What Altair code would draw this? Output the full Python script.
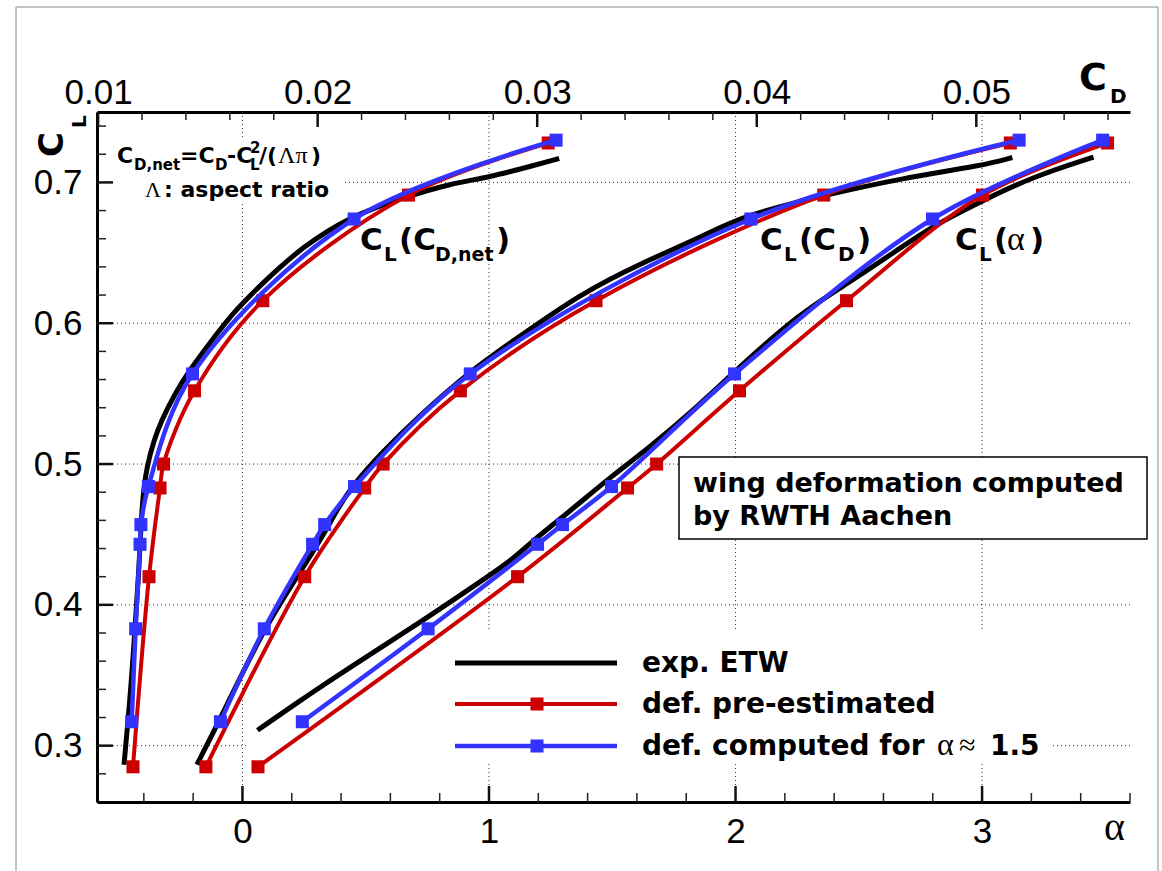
import altair as alt
import pandas as pd

# ---------------- data ----------------
# def. pre-estimated (red squares)
red_cl = [0.285, 0.420, 0.483, 0.500, 0.552, 0.616, 0.691, 0.728]
red_alpha = [0.063, 1.116, 1.562, 1.680, 2.016, 2.450, 3.002, 3.509]
red_cd = [0.01491, 0.01941, 0.02214, 0.02298, 0.02650, 0.03268, 0.04305, 0.05155]
red_cdnet = [0.01159, 0.01232, 0.01282, 0.01298, 0.01439, 0.01750, 0.02414, 0.03050]

# def. computed for alpha ~ 1.5 (blue squares)
blue_cl = [0.317, 0.383, 0.443, 0.457, 0.484, 0.564, 0.674, 0.730]
blue_alpha = [0.243, 0.753, 1.197, 1.298, 1.497, 1.996, 2.799, 3.489]
blue_cd = [0.01557, 0.01757, 0.01977, 0.02032, 0.02168, 0.02695, 0.03973, 0.05195]
blue_cdnet = [0.01153, 0.01171, 0.01191, 0.01195, 0.01229, 0.01430, 0.02166, 0.03086]

# exp. ETW (black lines)
exp_alpha_cl = [0.311, 0.338, 0.354, 0.384, 0.416, 0.432, 0.446, 0.465, 0.492, 0.510,
                0.542, 0.567, 0.607, 0.629, 0.653, 0.669, 0.687, 0.704, 0.718]
exp_alpha = [0.061, 0.284, 0.422, 0.690, 0.961, 1.095, 1.180, 1.318, 1.501, 1.639,
             1.854, 2.004, 2.260, 2.462, 2.665, 2.799, 3.002, 3.205, 3.452]
exp_cd_cl = [0.2865, 0.3255, 0.3844, 0.4248, 0.4511, 0.4695, 0.4865, 0.5078, 0.5312, 0.5667,
             0.5879, 0.6213, 0.6426, 0.6610, 0.6766, 0.6908, 0.7028, 0.7121, 0.7177]
exp_cd = [0.01450, 0.01577, 0.01759, 0.01927, 0.02032, 0.02095, 0.02168, 0.02291, 0.02441, 0.02700,
          0.02895, 0.03200, 0.03473, 0.03745, 0.03941, 0.04305, 0.04655, 0.05032, 0.05164]
exp_cdnet_cl = [0.2865, 0.3326, 0.3730, 0.4234, 0.4745, 0.4993, 0.5170, 0.5298, 0.5489, 0.5681,
                0.5879, 0.6092, 0.6312, 0.6539, 0.6766, 0.6894, 0.6993, 0.7035, 0.7121, 0.7170]
exp_cdnet = [0.01118, 0.01145, 0.01164, 0.01186, 0.01200, 0.01223, 0.01255, 0.01286, 0.01345, 0.01423,
             0.01518, 0.01623, 0.01768, 0.01927, 0.02155, 0.02395, 0.02609, 0.02777, 0.02986, 0.03100]

# axis ticks
alpha_major = [0, 1, 2, 3]
alpha_minor = [-0.4, -0.2, 0.2, 0.4, 0.6, 0.8, 1.2, 1.4, 1.6, 1.8, 2.2, 2.4, 2.6, 2.8, 3.2, 3.4, 3.6]
cl_major = [0.3, 0.4, 0.5, 0.6, 0.7]
cl_minor = [0.28, 0.32, 0.34, 0.36, 0.38, 0.42, 0.44, 0.46, 0.48, 0.52, 0.54, 0.56, 0.58,
            0.62, 0.64, 0.66, 0.68, 0.72, 0.74]
cd_major = [0.01, 0.02, 0.03, 0.04, 0.05]
cd_minor = [0.012, 0.014, 0.016, 0.018, 0.022, 0.024, 0.026, 0.028, 0.032, 0.034, 0.036, 0.038,
            0.042, 0.044, 0.046, 0.048, 0.052, 0.054, 0.056]

# ---------------- layout constants ----------------
W, H = 1033, 690
OX, OY = 97, 112
RED = "#cc0000"
BLUE = "#3333ff"
SANS = "Liberation Sans"
BOLD = "DejaVu Sans"
SERIF = "Liberation Serif"

xa = alt.Scale(domain=[-0.59, 3.6], nice=False, zero=False)
xc = alt.Scale(domain=[0.00995, 0.0570], nice=False, zero=False)
ys = alt.Scale(domain=[0.26, 0.75], nice=False, zero=False)

ax_common = dict(grid=False, ticks=False, domainWidth=3, domainColor="black",
                 labelFont=SANS, labelFontSize=35, labelColor="black", title=None)

y_enc = alt.Y("cl:Q", scale=ys,
              axis=alt.Axis(orient="left", values=cl_major, format=".1f", labelPadding=15, **ax_common))
xa_enc = alt.X("alpha:Q", scale=xa,
               axis=alt.Axis(orient="bottom", values=alpha_major, format="d", labelPadding=12, **ax_common))
xc_enc = alt.X("cd:Q", scale=xc,
               axis=alt.Axis(orient="top", values=cd_major, format=".2f", labelPadding=2, **ax_common))

one = pd.DataFrame({"k": [0]})


def df_alpha(a, cl):
    return pd.DataFrame({"alpha": a, "cl": cl})


def df_cd(cd, cl, cdnet, cl2):
    return pd.DataFrame({
        "cd": list(cd) + list(cdnet),
        "cl": list(cl) + list(cl2),
        "curve": ["CD"] * len(cd) + ["CDnet"] * len(cdnet),
    })


def curve(df, xenc, color, width, interp):
    enc = dict(x=xenc, y=y_enc, order="cl:Q")
    if "curve" in df.columns:
        enc["detail"] = "curve:N"
    return alt.Chart(df).mark_line(color=color, strokeWidth=width, interpolate=interp).encode(**enc)


def pts(df, xenc, color):
    return alt.Chart(df).mark_square(size=170, color=color, opacity=1).encode(x=xenc, y=y_enc)


def rect(x0, y0, x1, y1, **kw):
    return alt.Chart(one).mark_rect(**kw).encode(
        x=alt.value(x0 - OX), x2=alt.value(x1 - OX), y=alt.value(y0 - OY), y2=alt.value(y1 - OY))


def txt(s, x, y, size, font=BOLD, weight="bold", angle=None):
    kw = dict(font=font, fontSize=size, fontWeight=weight, align="left",
              baseline="alphabetic", color="black")
    if angle is not None:
        kw["angle"] = angle
    return alt.Chart(one).mark_text(**kw).encode(
        x=alt.value(x - OX), y=alt.value(y - OY), text=alt.value(s))


# ---------------- alpha group (bottom axis) ----------------
grid_v = alt.Chart(pd.DataFrame({"alpha": alpha_major})).mark_rule(
    color="#333", strokeWidth=1, strokeDash=[1, 3]).encode(x=xa_enc)
grid_h = alt.Chart(pd.DataFrame({"cl": cl_major})).mark_rule(
    color="#333", strokeWidth=1, strokeDash=[1, 3]).encode(y=y_enc)

legend_box = rect(246, 630, 1050, 763, fill="white")
formula_box = rect(99, 140, 343, 204, fill="white")
wing_box = rect(679, 457, 1147, 539, fill="white", stroke="black", strokeWidth=1.5)

a_black = curve(df_alpha(exp_alpha, exp_alpha_cl), xa_enc, "black", 5, "basis")
a_red = curve(df_alpha(red_alpha, red_cl), xa_enc, RED, 4, "catmull-rom")
a_red_p = pts(df_alpha(red_alpha, red_cl), xa_enc, RED)
a_blue = curve(df_alpha(blue_alpha, blue_cl), xa_enc, BLUE, 4.5, "catmull-rom")
a_blue_p = pts(df_alpha(blue_alpha, blue_cl), xa_enc, BLUE)

a_tmaj = alt.Chart(pd.DataFrame({"alpha": alpha_major})).mark_rule(color="#111", strokeWidth=2.5).encode(
    x=xa_enc, y=alt.value(H), y2=alt.value(H - 16))
a_tmin = alt.Chart(pd.DataFrame({"alpha": alpha_minor})).mark_rule(color="#222", strokeWidth=1.5).encode(
    x=xa_enc, y=alt.value(H), y2=alt.value(H - 9))
cl_tmaj = alt.Chart(pd.DataFrame({"cl": cl_major})).mark_rule(color="#111", strokeWidth=2.5).encode(
    y=y_enc, x=alt.value(0), x2=alt.value(16))
cl_tmin = alt.Chart(pd.DataFrame({"cl": cl_minor})).mark_rule(color="#222", strokeWidth=1.5).encode(
    y=y_enc, x=alt.value(0), x2=alt.value(9))

alpha_group = alt.layer(grid_v, grid_h, legend_box, formula_box, wing_box,
                        a_black, a_red, a_red_p, a_blue, a_blue_p, a_tmaj, a_tmin, cl_tmaj, cl_tmin)

# ---------------- CD group (top axis) ----------------
c_black = curve(df_cd(exp_cd, exp_cd_cl, exp_cdnet, exp_cdnet_cl), xc_enc, "black", 5, "basis")
c_red_df = df_cd(red_cd, red_cl, red_cdnet, red_cl)
c_blue_df = df_cd(blue_cd, blue_cl, blue_cdnet, blue_cl)
c_red = curve(c_red_df, xc_enc, RED, 4, "catmull-rom")
c_red_p = pts(c_red_df, xc_enc, RED)
c_blue = curve(c_blue_df, xc_enc, BLUE, 4.5, "catmull-rom")
c_blue_p = pts(c_blue_df, xc_enc, BLUE)
cd_tmaj = alt.Chart(pd.DataFrame({"cd": cd_major})).mark_rule(color="#111", strokeWidth=2.5).encode(
    x=xc_enc, y=alt.value(0), y2=alt.value(15))
cd_tmin = alt.Chart(pd.DataFrame({"cd": cd_minor})).mark_rule(color="#222", strokeWidth=1.5).encode(
    x=xc_enc, y=alt.value(0), y2=alt.value(8))

cd_group = alt.layer(c_black, c_red, c_red_p, c_blue, c_blue_p, cd_tmaj, cd_tmin)

# ---------------- annotations ----------------
texts = [
    # axis titles
    txt("C", 63, 157, 34, angle=270),
    txt("L", 86, 128, 20, angle=270),
    txt("C", 1079, 90, 38),
    txt("D", 1110, 103, 20),
    txt("α", 1104, 840, 40, font=SERIF, weight="normal"),
    # formula box
    txt("C", 117, 163, 22),
    txt("D,net", 134, 170, 15),
    txt("=C", 180, 163, 22),
    txt("D", 215, 170, 15),
    txt("-C", 227, 163, 22),
    txt("L", 250, 170, 15),
    txt("2", 250, 153, 15),
    txt("/(", 259, 163, 22),
    txt("Λπ", 278, 163, 24, font=SERIF, weight="normal"),
    txt(")", 311, 163, 22),
    txt("Λ", 145, 197, 22, font=SERIF, weight="normal"),
    txt(": aspect ratio", 164, 197, 22),
    # curve labels
    txt("C", 360, 250, 31), txt("L", 384, 261, 20), txt("(C", 399, 250, 31),
    txt("D,net", 435, 261, 19), txt(")", 496, 250, 31),
    txt("C", 760, 250, 31), txt("L", 784, 261, 20), txt("(C", 799, 250, 31),
    txt("D", 838, 261, 20), txt(")", 857, 250, 31),
    txt("C", 955, 250, 31), txt("L", 979, 261, 20), txt("(", 994, 250, 31),
    txt("α", 1007, 250, 34, font=SERIF, weight="normal"), txt(")", 1030, 250, 31),
    # wing box
    txt("wing deformation computed", 693, 492, 27),
    txt("by RWTH Aachen", 693, 525, 27),
    # legend
    txt("exp. ETW", 642, 672, 28),
    txt("def. pre-estimated", 642, 713, 28),
    txt("def. computed for", 642, 755, 28),
    txt("α", 937, 755, 32, font=SERIF, weight="normal"),
    txt("≈", 959, 755, 30, font=SERIF, weight="normal"),
    txt("1.5", 990, 755, 28),
]


def leg_line(y, color, width):
    return alt.Chart(one).mark_rule(color=color, strokeWidth=width).encode(
        x=alt.value(455 - OX), x2=alt.value(617 - OX), y=alt.value(y - OY))


def leg_pt(y, color):
    return alt.Chart(one).mark_square(size=170, color=color, opacity=1).encode(
        x=alt.value(537 - OX), y=alt.value(y - OY))


legend = [leg_line(663, "black", 5), leg_line(704, RED, 4), leg_pt(704, RED),
          leg_line(746, BLUE, 4.5), leg_pt(746, BLUE)]

frame = rect(16, 7, 1158, 900, fill="white", fillOpacity=0, stroke="#888", strokeWidth=1)

annot = alt.layer(*texts, *legend, frame)

chart = alt.layer(alpha_group, cd_group, annot).resolve_scale(x="independent").properties(
    width=W, height=H,
    padding={"left": OX, "top": OY, "right": 1162 - OX - W, "bottom": 871 - OY - H},
    autosize=alt.AutoSizeParams(type="none"),
    background="white",
).configure_view(stroke=None)

chart.save("out.html", embed_options={"renderer": "svg", "actions": False})
